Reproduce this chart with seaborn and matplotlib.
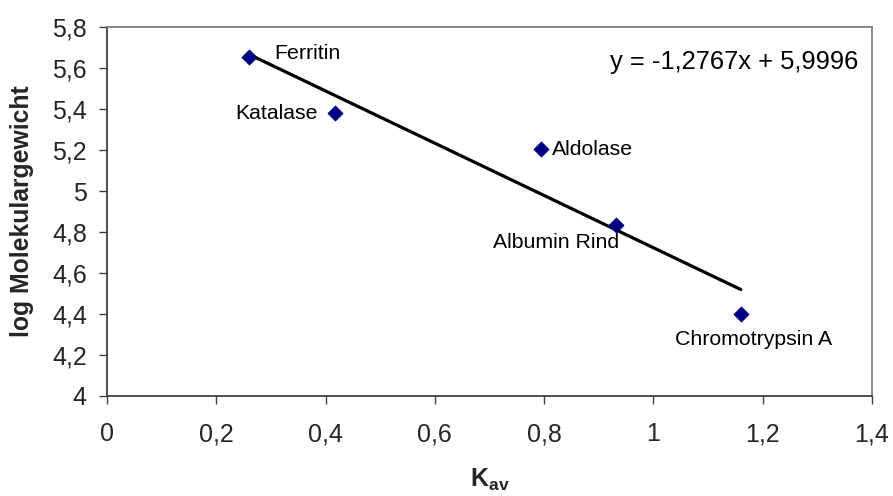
import matplotlib
matplotlib.use("Agg")
import matplotlib.pyplot as plt
import seaborn as sns
import numpy as np
import pandas as pd

# Calibration proteins: elution parameter K_av versus log molecular weight
proteins = ["Ferritin", "Katalase", "Aldolase", "Albumin Rind", "Chromotrypsin A"]
kav = [0.26, 0.417, 0.794, 0.931, 1.160]
log_mw = [5.653, 5.380, 5.204, 4.833, 4.398]

# Linear trend line as given by the equation label
slope = -1.2767
intercept = 5.9996
equation = "y = -1,2767x + 5,9996"

x_ticks = [0, 0.2, 0.4, 0.6, 0.8, 1, 1.2, 1.4]
x_tick_labels = ["0", "0,2", "0,4", "0,6", "0,8", "1", "1,2", "1,4"]
y_ticks = [4, 4.2, 4.4, 4.6, 4.8, 5, 5.2, 5.4, 5.6, 5.8]
y_tick_labels = ["4", "4,2", "4,4", "4,6", "4,8", "5", "5,2", "5,4", "5,6", "5,8"]

sns.set_theme(style="white")
plt.rcParams["font.family"] = ["Liberation Sans", "DejaVu Sans"]
plt.rcParams["mathtext.fontset"] = "custom"
plt.rcParams["mathtext.rm"] = "Liberation Sans"
plt.rcParams["mathtext.bf"] = "Liberation Sans:bold"

df = pd.DataFrame({"protein": proteins, "kav": kav, "log_mw": log_mw})

fig = plt.figure(figsize=(8.93, 4.96), dpi=100)
ax = fig.add_axes([107 / 893, 1 - 395.7 / 496, 765 / 893, 368.4 / 496])

# Trend line over the range of the data
x_fit = np.array([min(kav), max(kav)])
y_fit = slope * x_fit + intercept
sns.lineplot(x=x_fit, y=y_fit, ax=ax, color="black", linewidth=2.3, zorder=2)

sns.scatterplot(data=df, x="kav", y="log_mw", ax=ax, marker="D", s=60,
                color="#000080", edgecolor="#000080", linewidth=0.5, zorder=3)

# Point labels (offsets in pixels)
offsets = {
    "Ferritin": (25, 4, "left"),
    "Katalase": (-17, 0, "right"),
    "Aldolase": (11, 0, "left"),
    "Albumin Rind": (-60, -17, "center"),
    "Chromotrypsin A": (13, -25, "center"),
}
for name, xv, yv in zip(proteins, kav, log_mw):
    dx, dy, ha = offsets[name]
    ax.annotate(name, (xv, yv), xytext=(dx, dy), textcoords="offset pixels",
                ha=ha, va="center", fontsize=15.3, color="black")

ax.text(0.982, 0.906, equation, transform=ax.transAxes, ha="right", va="center",
        fontsize=18.4, color="black")

ax.set_xlim(0, 1.4)
ax.set_ylim(4, 5.8)
ax.set_xticks(x_ticks)
ax.set_xticklabels(x_tick_labels)
ax.set_yticks(y_ticks)
ax.set_yticklabels(y_tick_labels)
ax.tick_params(axis="x", direction="out", length=5.5, width=1, color="#404040",
               labelsize=18, pad=13.5, bottom=True)
ax.tick_params(axis="y", direction="out", length=5.5, width=1, color="#404040",
               labelsize=18, pad=9, left=True)
ax.set_xlabel("")
ax.set_ylabel("")

for side in ["left", "bottom"]:
    ax.spines[side].set_color("#404040")
    ax.spines[side].set_linewidth(1.3)
for side in ["top", "right"]:
    ax.spines[side].set_color("#808080")
    ax.spines[side].set_linewidth(1.3)

fig.text(490 / 893, 1 - 480 / 496, r"$\mathbf{K_{av}}$", ha="center", va="center",
         fontsize=18)
fig.text(22.5 / 893, 1 - 211 / 496, "log Molekulargewicht", rotation=90,
         ha="center", va="center", fontsize=17.8, fontweight="bold")

fig.savefig("out.png", dpi=100, facecolor="white")
